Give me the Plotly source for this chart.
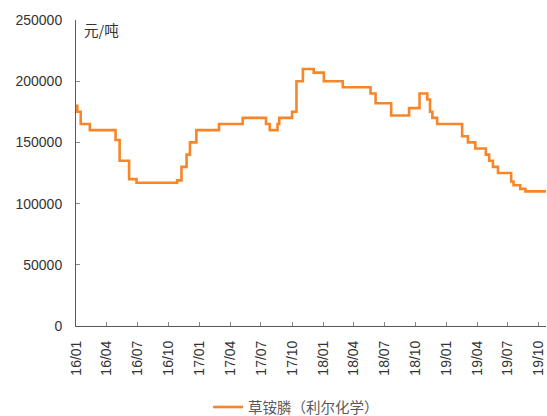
import plotly.graph_objects as go

dates = ["2016-01-01", "2016-01-05", "2016-01-15", "2016-02-11", "2016-04-27", "2016-05-09",
         "2016-06-06", "2016-06-28", "2016-10-26", "2016-11-08", "2016-11-23", "2016-12-03",
         "2016-12-22", "2017-02-27", "2017-05-08", "2017-07-16", "2017-07-27", "2017-08-19",
         "2017-08-24", "2017-10-01", "2017-10-14", "2017-11-02", "2017-12-04", "2018-01-03",
         "2018-02-28", "2018-05-21", "2018-06-05", "2018-07-21", "2018-09-12", "2018-10-13",
         "2018-11-05", "2018-11-13", "2018-11-20", "2018-12-04", "2019-02-16", "2019-03-05",
         "2019-03-27", "2019-04-27", "2019-05-07", "2019-05-18", "2019-06-02", "2019-07-11",
         "2019-07-18", "2019-08-07", "2019-08-22", "2019-10-22"]
prices = [180000, 175000, 165000, 160000, 152000, 135000,
          120000, 117000, 119000, 130000, 140000, 150000,
          160000, 165000, 170000, 165000, 160000, 165000,
          170000, 175000, 200000, 210000, 207000, 200000,
          195000, 190000, 182000, 172000, 178000, 190000,
          185000, 175000, 170000, 165000, 155000, 150000,
          145000, 140000, 135000, 130000, 125000, 118000,
          115000, 112000, 110000, 110000]

tick_dates = ["2016-01-01", "2016-04-01", "2016-07-01", "2016-10-01",
              "2017-01-01", "2017-04-01", "2017-07-01", "2017-10-01",
              "2018-01-01", "2018-04-01", "2018-07-01", "2018-10-01",
              "2019-01-01", "2019-04-01", "2019-07-01", "2019-10-01"]
tick_labels = ["16/01", "16/04", "16/07", "16/10", "17/01", "17/04", "17/07", "17/10",
               "18/01", "18/04", "18/07", "18/10", "19/01", "19/04", "19/07", "19/10"]
y_ticks = [0, 50000, 100000, 150000, 200000, 250000]
y_labels = ["0", "50000", "100000", "150000", "200000", "250000"]

series_name = "草铵膦（利尔化学）"
unit_label = "元/吨"

fig = go.Figure()
fig.add_trace(go.Scatter(
    x=dates, y=prices, mode="lines", line_shape="hv",
    line=dict(color="#F7862A", width=2.6),
    name=series_name, showlegend=True,
))

fig.update_layout(
    width=547, height=416,
    margin=dict(l=76, r=1, t=20, b=90, autoexpand=False),
    paper_bgcolor="white", plot_bgcolor="white",
    font=dict(family="Liberation Sans, Arial, sans-serif", size=14, color="#333333"),
    showlegend=True,
    legend=dict(orientation="h", x=0.281, xanchor="left", y=-0.265, yanchor="middle",
                font=dict(family="Noto Sans CJK SC", size=14.5, color="#595959"),
                bgcolor="rgba(0,0,0,0)"),
    xaxis=dict(
        type="date", range=["2016-01-01", "2019-10-22"], automargin=False,
        tickmode="array", tickvals=tick_dates, ticktext=tick_labels,
        tickangle=-90, ticks="inside", ticklen=4, tickcolor="#888888",
        ticklabelstandoff=8,
        showline=True, linecolor="#595959", linewidth=1,
        showgrid=False, zeroline=False,
        tickfont=dict(size=14, color="#333333"),
    ),
    yaxis=dict(
        range=[0, 250000], tickmode="array", tickvals=y_ticks, ticktext=y_labels,
        automargin=False,
        ticks="inside", ticklen=4, tickcolor="#888888",
        ticklabelstandoff=10,
        showline=True, linecolor="#595959", linewidth=1,
        showgrid=False, zeroline=False,
        tickfont=dict(size=14, color="#333333"),
    ),
    annotations=[dict(text=unit_label, xref="paper", yref="paper", x=0.012, y=1.01,
                      xanchor="left", yanchor="top", showarrow=False,
                      font=dict(family="Noto Sans CJK SC", size=14.5, color="#333333"))],
)

fig.write_html("out.html", config={"displayModeBar": False},
               post_script="document.body.style.margin='0';")
